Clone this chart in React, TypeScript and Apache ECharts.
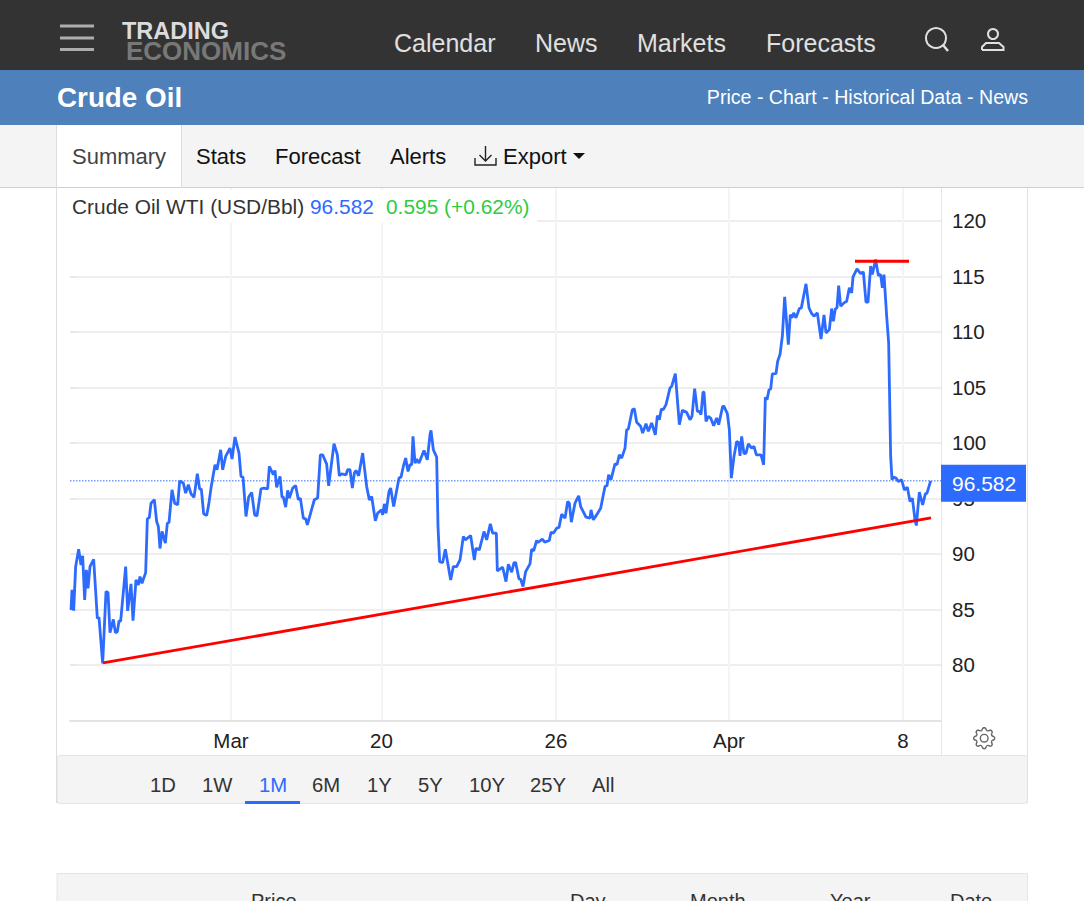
import React, { useEffect, useRef } from "react";
import * as echarts from "echarts";

// Session hours since the start of the window, and the price (USD/Bbl) at each.
const hours = [0.5,1,1.83,2.83,4.33,5.5,6.33,7.33,8.17,9,10,11.83,13.67,14.5,16.33,18,19,20,21.67,22.67,23.67,24.5,25.33,27.83,28.83,30.5,31.5,33,34.17,35,36,37.83,38.67,39.67,40.5,42.17,43.33,44.17,45,46,47.67,48.67,49.5,51,52.33,53.83,54.83,56.67,57.83,59.17,60.5,62,63.67,64.83,65.67,66.83,68.33,69.33,70.5,72.5,73.5,75.33,76.33,77.83,80,81,82.5,84.5,85.5,86.5,88,89.33,90.83,92.33,93.5,95.5,97,98.83,99.67,101.67,102.5,103.33,105,106,106.67,107.83,108.83,109.67,111.33,112.83,114.17,115.17,116.67,117.83,118.67,122.17,123.83,125.17,126.33,128.33,129.33,132,133.67,134.67,135.83,138,138.83,140,141.17,142.17,143,144.33,146.33,148.33,149.67,150.83,152.67,153.83,155.83,156.33,157.17,158,159.5,160.33,161.83,164.5,165.5,166.67,167.83,169,170,170.83,171.5,172.5,173.33,174.5,177,178.67,180,180.5,181.67,183.33,184,184.83,186.33,187.67,190.33,191.67,193.33,195,196.67,197.67,200.33,202.17,203,204.67,207,208.33,210.17,211.33,213.17,213.67,216.33,218,219.17,220.83,222,222.83,224.5,225.33,226.5,227.83,230,230.83,231.83,233.33,234,236.17,237.33,239.67,240.5,241.67,243.33,244.5,245.83,247.5,248.83,249.67,250.67,252.5,254.33,255.33,258,260,260.5,261.67,263.33,265.33,267.5,268.5,269.33,270.5,272.5,273.5,274.67,275.83,277.5,278.33,279.17,281.17,282.17,283.33,285.33,286.33,288,289.17,290.83,292.67,293.67,294.67,295.67,296.67,298,300,300.83,302.67,304.67,306.17,308.33,310,311,312.33,313.67,314.67,315.5,316.5,317,318,319.17,320.33,321.83,323.33,324.33,326.33,327,328.67,329.67,330.67,332,333.33,334.33,335,335.83,337,338,339.17,340.83,342,343.17,345.5,346.83,347.67,348.5,349.5,350.33,351.17,353,353.83,355,356.17,356.67,357.33,359.17,360.17,361,361.83,363,364.67,365.67,368,369.5,370.83,372,373.67,375.5,377,378,379.67,380.83,381.67,382.67,383.5,384.33,385.33,387,388.33,389.67,390.83,391.5,393.5,395.33,396.67,398,399,400.33,401.17,402.83,404.17,405.33,406.17,407,408.33,409.33,410.33,411,411.67,413,414.17,415.83,417.17,418.67,420,421.17,422.5,423.17,424.67,426.33,427.67,428.5,430.33];
const prices = [84.96,86.76,84.9,88.86,90.43,89.01,89.83,85.86,88.56,86.91,88.86,89.52,84.2,84.29,80.15,86.61,86.52,82.91,84.11,82.91,83,83.96,83.96,88.86,84.87,87.3,83.99,87.66,87.21,87.96,87.36,88.32,93.16,93.28,94.57,94.88,92.92,92.47,90.49,92.02,90.97,92.77,92.83,95.78,94.57,94.42,96.56,96.38,95.48,96.23,95.42,95.09,97.22,95.84,95.84,93.61,93.46,94.42,95.93,98.03,97.58,99.38,97.58,98.78,99.53,98.54,100.53,99.08,96.98,96.92,93.37,95.12,95.54,93.52,93.43,95.87,95.93,95.87,97.88,97.13,97.52,95.99,96.98,95.12,95.12,94.21,95.72,95.03,95.93,96.17,94.88,95.03,93.22,93.16,92.62,94.88,95.03,98.93,98.93,98.09,96.14,99.93,98.93,97.04,97.22,97.13,97.58,97.58,95.93,97.28,97.52,97.04,99.08,96.08,94.87,95.18,92.98,93.67,93.97,93.52,94.51,93.67,95.63,95.93,94.27,96.83,96.92,97.88,98.63,97.43,98.03,98.03,100.59,98.18,98.54,98.18,99.32,98.48,100.74,101.13,99.38,98.72,92.47,89.31,89.22,90.43,87.66,88.86,88.86,89.46,91.57,91.27,91.66,89.46,90.52,90.37,92.02,91.27,92.71,91.87,91.87,88.47,88.8,87.51,89.07,88.35,89.22,89.22,87.75,87.72,87.06,88.41,89.1,90.43,90.28,91.21,91.03,91.33,91.06,91.21,91.96,91.87,92.32,92.38,93.58,93.22,94.72,94.57,92.86,94.57,95.24,94.27,93.31,93.22,93.97,93.07,93.52,94.12,96.08,96.14,97.13,96.68,98.12,98.03,98.93,98.63,99.53,101.19,101.25,102.99,103.08,101.85,101.49,100.88,101.73,101.04,101.79,100.73,102.45,102.09,103.05,102.99,103.44,104.94,105.09,106.24,101.64,102.93,102.75,102.09,102.39,104.88,102.84,102.84,102.54,104.58,104.58,101.94,102.39,102.24,101.55,102.24,101.64,103.29,103.29,102.63,101.19,96.83,98.78,100.13,100.04,98.84,100.58,99.02,99.08,99.92,99.53,99.68,98.93,98.93,98.03,104.1,103.89,104.79,104.85,106.21,106.24,107.35,107.95,109.6,111.11,113.15,108.85,111.56,111.26,111.71,111.26,112.1,112.16,114.32,112.16,111.65,111.41,111.71,109.36,111.53,109.9,110.2,112.1,110.96,112.07,112.16,114.17,112.31,112.61,112.76,113.96,113.51,114.95,115.67,115.25,115.4,112.67,112.67,115.92,115.16,116.52,115.07,115.16,113.96,115.16,111.41,109,98.78,96.68,96.92,96.83,96.53,96.68,95.77,96.01,94.72,95.02,93.07,92.56,95.56,94.42,95.41,95.47,96.582];

const trendHours = [16.5, 430.5];
const trendPrices = [80.18, 93.25];
const peakHours = [392.5, 419.5];
const peakPrices = [116.36, 116.36];

const lastPrice = 96.582;
const lastPriceHours = [0, 435.5];
const xTickValues = [80.5, 155.75, 243, 329.5, 416.5];
const xTickLabels = ["Mar", "20", "26", "Apr", "8"];
const yTickValues = [80, 85, 90, 95, 100, 105, 110, 115, 120];

const navItems = ["Calendar", "News", "Markets", "Forecasts"];
const tabItems = ["Summary", "Stats", "Forecast", "Alerts", "Export"];
const rangeItems = ["1D", "1W", "1M", "6M", "1Y", "5Y", "10Y", "25Y", "All"];
const tableHeads = ["Price", "Day", "Month", "Year", "Date"];

const BLUE = "#2d6bff";
const FONT = '"Liberation Sans", Arial, sans-serif';

const gearPath =
  "M8 4.754a3.246 3.246 0 1 0 0 6.492 3.246 3.246 0 0 0 0-6.492zM5.754 8a2.246 2.246 0 1 1 4.492 0 2.246 2.246 0 0 1-4.492 0z" +
  "M9.796 1.343c-.527-1.79-3.065-1.79-3.592 0l-.094.319a.873.873 0 0 1-1.255.52l-.292-.16c-1.64-.892-3.433.902-2.54 2.541l.159.292a.873.873 0 0 1-.52 1.255l-.319.094c-1.79.527-1.79 3.065 0 3.592l.319.094a.873.873 0 0 1 .52 1.255l-.16.292c-.892 1.64.901 3.434 2.541 2.54l.292-.159a.873.873 0 0 1 1.255.52l.094.319c.527 1.79 3.065 1.79 3.592 0l.094-.319a.873.873 0 0 1 1.255-.52l.292.16c1.64.893 3.434-.902 2.54-2.541l-.159-.292a.873.873 0 0 1 .52-1.255l.319-.094c1.79-.527 1.79-3.065 0-3.592l-.319-.094a.873.873 0 0 1-.52-1.255l.16-.292c.893-1.64-.902-3.433-2.541-2.54l-.292.159a.873.873 0 0 1-1.255-.52l-.094-.319zm-2.633.283c.246-.835 1.428-.835 1.674 0l.094.319a1.873 1.873 0 0 0 2.693 1.115l.291-.16c.764-.415 1.6.42 1.184 1.185l-.159.292a1.873 1.873 0 0 0 1.116 2.692l.318.094c.835.246.835 1.428 0 1.674l-.319.094a1.873 1.873 0 0 0-1.115 2.693l.16.291c.415.764-.42 1.6-1.185 1.184l-.291-.159a1.873 1.873 0 0 0-2.693 1.116l-.094.318c-.246.835-1.428.835-1.674 0l-.094-.319a1.873 1.873 0 0 0-2.692-1.115l-.292.16c-.764.415-1.6-.42-1.184-1.185l.159-.291A1.873 1.873 0 0 0 1.945 8.93l-.319-.094c-.835-.246-.835-1.428 0-1.674l.319-.094A1.873 1.873 0 0 0 3.06 4.377l-.16-.292c-.415-.764.42-1.6 1.185-1.184l.292.159a1.873 1.873 0 0 0 2.692-1.115l.094-.319z";
echarts.graphic.registerShape("gearIcon", echarts.graphic.extendPath(gearPath, {}));

function txt(text: string, x: number, y: number, size: number, fill: string, opts: any = {}) {
  return {
    type: "text",
    z: opts.z ?? 20,
    style: {
      text,
      x,
      y,
      fill,
      font: `${opts.weight ?? "normal"} ${size}px ${FONT}`,
      textAlign: opts.align ?? "left",
      textVerticalAlign: "middle",
    },
  };
}
function box(x: number, y: number, width: number, height: number, fill: string, stroke?: string, r = 0) {
  return { type: "rect", z: 1, shape: { x, y, width, height, r }, style: { fill, stroke: stroke ?? "none", lineWidth: 1 } };
}
function rule(x1: number, y1: number, x2: number, y2: number, stroke: string, lineWidth = 1, z = 3) {
  return { type: "line", z, shape: { x1, y1, x2, y2 }, style: { stroke, lineWidth } };
}

function chrome(): any[] {
  const navX = [394, 535, 637, 766];
  const tabX = [72, 196, 275, 390, 503];
  const rangeX = [150, 202, 259, 312, 367, 418, 469, 530, 592];
  const tableX = [251, 570, 690, 830, 950];
  const els: any[] = [
    box(0, 0, 1084, 70, "#333333"),
    box(0, 70, 1084, 55, "#4e80bc"),
    box(0, 125, 1084, 62, "#f4f4f4"),
    rule(0, 187.5, 1084, 187.5, "#cfcfcf", 1),
    box(57, 125, 125, 66, "#ffffff"),
    rule(56.5, 125, 56.5, 803, "#dddddd", 1),
    rule(181.5, 125, 181.5, 188, "#dddddd", 1),
    rule(1027.5, 188, 1027.5, 803, "#e2e2e2", 1),
    rule(941.5, 188, 941.5, 755, "#e6e6e6", 1),
    box(57, 755.5, 970.5, 48, "#f4f4f4", "#e4e4e4", 3),
    box(57, 873.5, 970.5, 40, "#f4f4f4", "#e4e4e4"),
    { type: "rect", z: 15, shape: { x: 57, y: 190, width: 480, height: 33 }, style: { fill: "#ffffff" } },
    // header icons
    rule(60, 26, 94, 26, "#adadad", 3),
    rule(60, 38, 94, 38, "#adadad", 3),
    rule(60, 49.5, 94, 49.5, "#adadad", 3),
    txt("TRADING", 122, 30.5, 23.5, "#dcdcdc", { weight: "bold" }),
    txt("ECONOMICS", 126, 50.5, 26, "#787878", { weight: "bold" }),
    { type: "circle", z: 5, shape: { cx: 936, cy: 38, r: 10 }, style: { fill: "none", stroke: "#e0e0e0", lineWidth: 2 } },
    rule(943, 45, 948, 51, "#e0e0e0", 2.5, 5),
    { type: "circle", z: 5, shape: { cx: 993, cy: 34, r: 5 }, style: { fill: "none", stroke: "#e0e0e0", lineWidth: 2 } },
    { type: "polyline", z: 5, shape: { points: [[982, 50], [982, 47], [986, 43], [999, 43], [1003.5, 47], [1003.5, 50], [982, 50]] }, style: { fill: "none", stroke: "#e0e0e0", lineWidth: 2 } },
    txt("Crude Oil", 57, 97.5, 27.8, "#ffffff", { weight: "bold" }),
    txt("Price - Chart - Historical Data - News", 1028, 96.5, 19.6, "#ffffff", { align: "right" }),
    // export icon and caret
    { type: "polyline", z: 5, shape: { points: [[475, 158], [475, 165], [496, 165], [496, 158]] }, style: { fill: "none", stroke: "#222222", lineWidth: 1.4 } },
    { type: "polyline", z: 5, shape: { points: [[485.5, 146], [485.5, 161]] }, style: { fill: "none", stroke: "#222222", lineWidth: 1.4 } },
    { type: "polyline", z: 5, shape: { points: [[479.5, 155], [485.5, 161], [491.5, 155]] }, style: { fill: "none", stroke: "#222222", lineWidth: 1.4 } },
    { type: "polygon", z: 5, shape: { points: [[573, 153], [585, 153], [579, 159]] }, style: { fill: "#111111" } },
    // legend
    txt("Crude Oil WTI (USD/Bbl)", 72, 206.5, 20.9, "#333333", { z: 21 }),
    txt("96.582", 310, 206.5, 20.9, BLUE, { z: 21 }),
    txt("0.595 (+0.62%)", 386, 206.5, 20.9, "#2ecc40", { z: 21 }),
    // range underline and gear
    box(245, 801, 55, 3, BLUE),
    { type: "gearIcon", z: 5, x: 973, y: 727, scaleX: 1.4, scaleY: 1.4, style: { fill: "#666666" } },
  ];
  navItems.forEach((t, i) => els.push(txt(t, navX[i], 42.5, 25, "#e0e0e0")));
  tabItems.forEach((t, i) => els.push(txt(t, tabX[i], 156, 22, i === 0 ? "#444444" : "#111111")));
  rangeItems.forEach((t, i) => els.push(txt(t, rangeX[i], 785, 20.3, i === 2 ? BLUE : "#333333")));
  tableHeads.forEach((t, i) => els.push(txt(t, tableX[i], 901, 20, "#333333")));
  return els;
}

export default function App() {
  const ref = useRef<HTMLDivElement>(null);
  useEffect(() => {
    document.body.style.margin = "0";
    const chart = echarts.init(ref.current!, undefined, { renderer: "svg" });
    chart.setOption({
      animation: false,
      textStyle: { fontFamily: FONT },
      grid: { left: 70, right: 143, top: 187.5, bottom: 180.5, containLabel: false },
      xAxis: {
        type: "value",
        min: 0,
        max: 435.5,
        axisLine: { show: true, onZero: false, lineStyle: { color: "#e3e3e3", width: 2 } },
        axisTick: { show: false, customValues: xTickValues },
        axisLabel: {
          customValues: xTickValues,
          formatter: (v: number) => xTickLabels[xTickValues.indexOf(v)] ?? "",
          fontSize: 20.5,
          color: "#222222",
          margin: 9.5,
          hideOverlap: false,
        },
        splitLine: { show: true, lineStyle: { color: "#f1f4f8", width: 2 } },
      },
      yAxis: {
        type: "value",
        position: "right",
        min: 75,
        max: 123,
        axisLine: { show: false },
        axisTick: { show: true, length: 7, customValues: yTickValues, lineStyle: { color: "#e6e6e6", width: 1.5 } },
        axisLabel: { customValues: yTickValues, fontSize: 20.5, color: "#222222", margin: 11, padding: [0, 0, 4, 0], hideOverlap: false },
        splitLine: { show: true, lineStyle: { color: "#e8e8e8", width: 1.5 } },
      },
      series: [
        {
          type: "line",
          name: "Last price",
          data: lastPriceHours.map((h) => [h, lastPrice]),
          showSymbol: false,
          silent: true,
          z: 1,
          lineStyle: { color: BLUE, type: [1.5, 1.5], width: 1 },
        },
        {
          type: "line",
          name: "Crude Oil WTI",
          data: hours.map((h, i) => [h, prices[i]]),
          showSymbol: false,
          smooth: false,
          lineStyle: { color: BLUE, width: 2.8 },
          markLine: {
            silent: true,
            symbol: "none",
            lineStyle: { color: "transparent", width: 0 },
            data: [{ yAxis: lastPrice }],
            label: {
              show: true,
              position: "end",
              distance: 0,
              offset: [0, 2.5],
              formatter: () => lastPrice.toFixed(3),
              backgroundColor: BLUE,
              color: "#ffffff",
              fontSize: 21,
              fontFamily: FONT,
              padding: [8, 11, 8, 11],
              lineHeight: 21,
              width: 63,
              align: "left",
            },
          },
        },
        {
          type: "line",
          name: "Trend",
          data: trendHours.map((h, i) => [h, trendPrices[i]]),
          showSymbol: false,
          lineStyle: { color: "#ff0000", width: 2.8 },
        },
        {
          type: "line",
          name: "Peak",
          data: peakHours.map((h, i) => [h, peakPrices[i]]),
          showSymbol: false,
          lineStyle: { color: "#ff0000", width: 2.8 },
        },
      ],
      graphic: { elements: chrome() },
    });
    return () => chart.dispose();
  }, []);
  return <div ref={ref} style={{ position: "absolute", left: 0, top: 0, width: 1084, height: 901, overflow: "hidden" }} />;
}
